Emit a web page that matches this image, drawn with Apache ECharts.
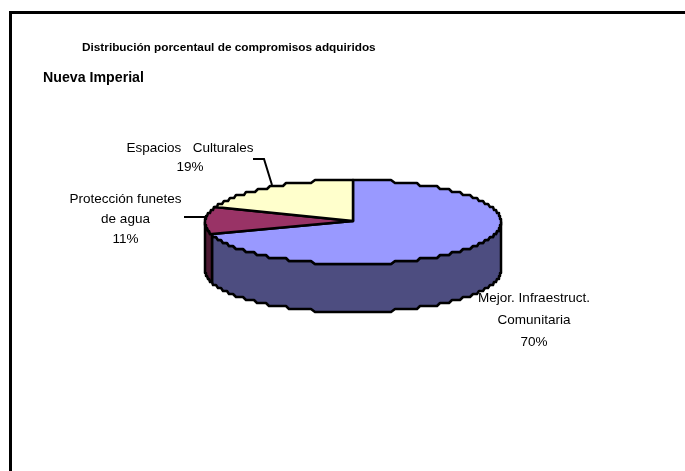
<!DOCTYPE html>
<html><head><meta charset="utf-8">
<style>html,body{margin:0;padding:0;background:#fff}#c{width:685px;height:471px}</style>
<script src="https://cdn.jsdelivr.net/npm/echarts@6/dist/echarts.min.js"></script>
</head><body><div id="c"></div>
<script>
const titleText = 'Distribución porcentaul de compromisos adquiridos';
const subtitleText = 'Nueva Imperial';
const categories = ['Mejor. Infraestruct.\nComunitaria', 'Protección funetes\nde agua', 'Espacios   Culturales'];
const shares = [70, 11, 19];
const topColors = ['#9999ff', '#993366', '#ffffcc'];
const wallColors = ['#4d4d80', '#4d1a33', '#80805f'];

const cx = 353, cy = 222, rx = 148, ry = 42, depth = 48;
const apex = [353, 221];
const chart = echarts.init(document.getElementById('c'), null, {renderer: 'canvas'});
const pt = (deg, dy) => {
  const a = deg * Math.PI / 180;
  return [Math.round(cx + rx * Math.sin(a)), Math.round((cy - ry * Math.cos(a)) / 3) * 3 + dy];
};
const arc = (from, to, dy) => {
  const out = [];
  const n = Math.max(2, Math.ceil(Math.abs(to - from) / 1.5));
  for (let i = 0; i <= n; i++) out.push(pt(from + (to - from) * i / n, dy));
  // keep only the points where the stair-step changes row, giving the stepped edge
  return out.filter((p, i) => i === 0 || i === out.length - 1 || p[1] !== out[i - 1][1] || p[1] !== out[i + 1][1]);
};
const line = {stroke: '#000', lineWidth: 2.5, lineJoin: 'round'};
const poly = (points, fill, z) => ({type: 'polygon', z2: z, shape: {points}, style: {fill, ...line}});

const totalShare = shares.reduce((a, b) => a + b, 0);
function renderSlice(params, api) {
  const idx = params.dataIndex;
  const start = shares.slice(0, idx).reduce((a, b) => a + b, 0) / totalShare * 360;
  const end = start + api.value(1) / totalShare * 360;
  const children = [];
  const wFrom = Math.max(start, 90), wTo = Math.min(end, 270);
  if (wTo > wFrom) {
    children.push(poly(arc(wFrom, wTo, 0).concat(arc(wTo, wFrom, depth)), wallColors[idx], 1));
  }
  children.push(poly([apex].concat(arc(start, end, 0)), topColors[idx], 2 + idx));
  return {type: 'group', children};
}

const labelFont = {fontFamily: 'Liberation Sans', fontSize: 13.5, fill: '#000'};
chart.setOption({
  animation: false,
  backgroundColor: '#fff',
  graphic: [
    {type: 'polyline', silent: true, shape: {points: [[10.5, 471], [10.5, 12.5], [685, 12.5]]},
     style: {fill: 'none', stroke: '#000', lineWidth: 3}}
  ],
  title: [
    {text: titleText, left: 82, top: 42, padding: 0,
     textStyle: {fontFamily: 'Liberation Sans', fontSize: 11.8, fontWeight: 'bold', color: '#000'}},
    {text: subtitleText, left: 43, top: 71, padding: 0,
     textStyle: {fontFamily: 'Liberation Sans', fontSize: 14.2, fontWeight: 'bold', color: '#000'}}
  ],
  series: [{
    type: 'custom',
    coordinateSystem: 'none',
    renderItem: renderSlice,
    data: categories.map((c, i) => ({name: c, value: [i, shares[i]]}))
  }, {
    type: 'custom',
    coordinateSystem: 'none',
    silent: true,
    z: 5,
    renderItem: (params, api) => {
      const i = params.dataIndex;
      const pos = [[534, 287], [125.5, 189], [190, 139]][i];
      const lh = [22, 20, 19][i];
      const leaders = [null, [[184, 217], [206, 217]], [[253, 159], [264, 159], [272, 185]]];
      const children = [{type: 'text', style: {
        x: pos[0], y: pos[1], text: categories[i] + '\n' + api.value(1) + '%', align: 'center',
        lineHeight: lh, ...labelFont}}];
      if (leaders[i]) children.push({type: 'polyline', shape: {points: leaders[i]}, style: {fill: 'none', stroke: '#000', lineWidth: 2}});
      return {type: 'group', children};
    },
    data: categories.map((c, i) => ({name: c, value: [i, shares[i]]}))
  }]
});
</script></body></html>
